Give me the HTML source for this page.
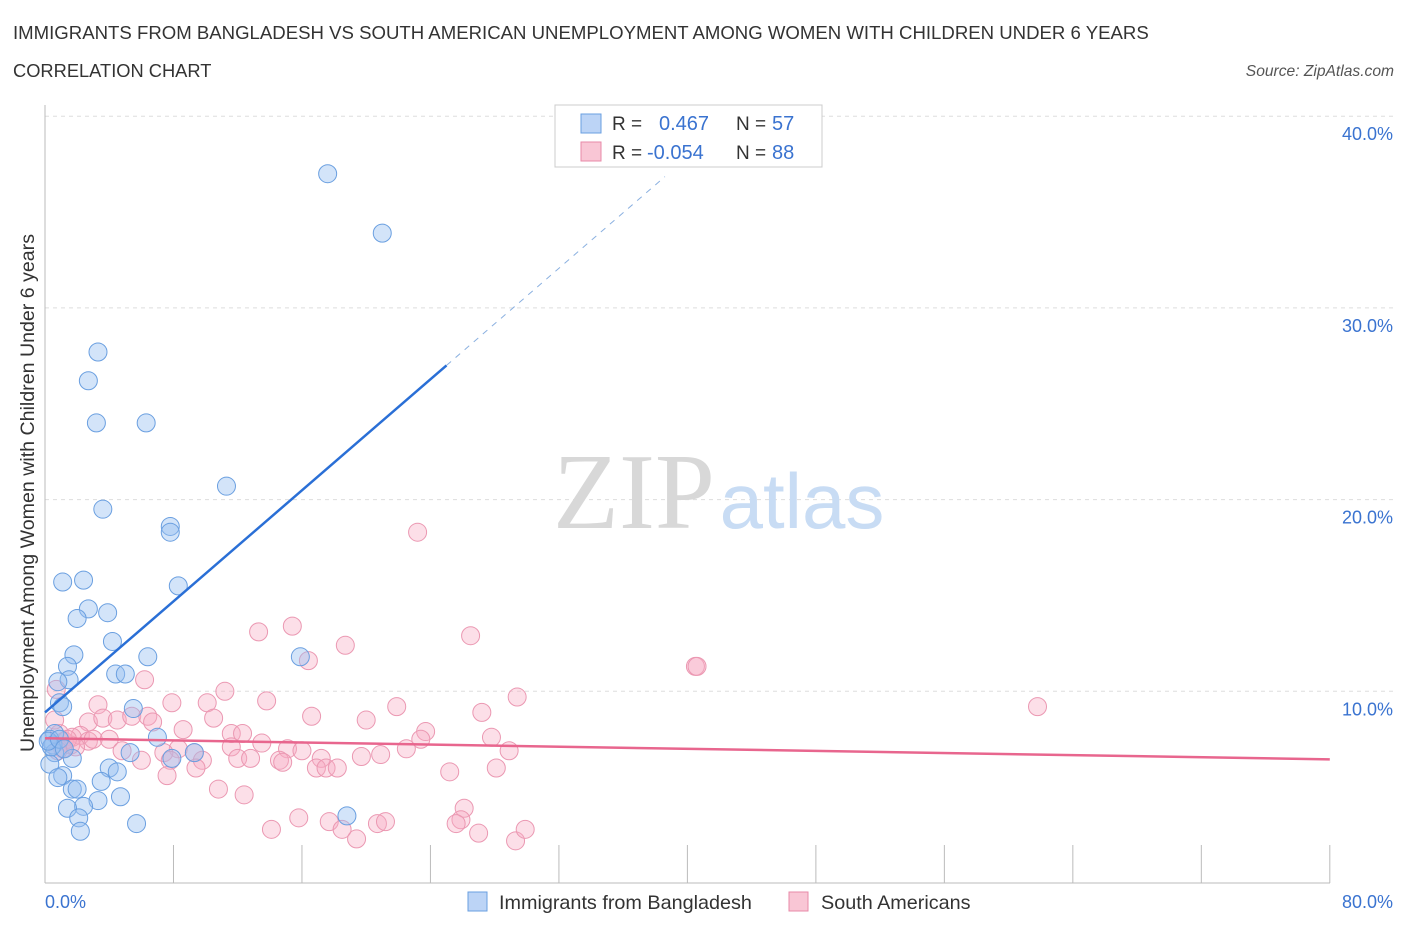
<!DOCTYPE html>
<html><head><meta charset="utf-8"><style>
body{margin:0;background:#fff;font-family:"Liberation Sans",sans-serif;}
svg{display:block}
</style></head><body>
<svg id="c" width="1406" height="930" xmlns="http://www.w3.org/2000/svg">
<text x="13" y="39" font-size="18.6" fill="#333">IMMIGRANTS FROM BANGLADESH VS SOUTH AMERICAN UNEMPLOYMENT AMONG WOMEN WITH CHILDREN UNDER 6 YEARS</text>
<text x="13" y="77" font-size="18.3" fill="#333">CORRELATION CHART</text>
<text x="1394" y="76" font-size="15.6" fill="#555" font-style="italic" text-anchor="end">Source: ZipAtlas.com</text>
<g id="grid"></g>
<text x="634" y="528" font-size="108" fill="#d8d8d8" font-family="Liberation Serif,serif" text-anchor="middle">ZIP</text>
<text x="802" y="528" font-size="78" fill="#c8dcf4" text-anchor="middle">atlas</text>
<g id="pts"></g>
<g id="lines"></g>
<text x="34" y="493" font-size="19.6" fill="#333" text-anchor="middle" transform="rotate(-90 34 493)">Unemployment Among Women with Children Under 6 years</text>
<text x="45" y="908" font-size="18" fill="#3a73d0">0.0%</text>
<text x="1393" y="908" font-size="18" fill="#3a73d0" text-anchor="end">80.0%</text>
<g>
<rect x="555" y="105" width="267" height="62" fill="#fff" stroke="#ccc"/>
<rect x="581" y="114" width="20" height="19" fill="#bcd4f6" stroke="#6a9fe0"/>
<rect x="581" y="142" width="20" height="19" fill="#f9c6d5" stroke="#e88aa8"/>
<text x="612" y="130" font-size="19" fill="#333">R =</text>
<text x="659" y="130" font-size="20" fill="#3a73d0">0.467</text>
<text x="736" y="130" font-size="19" fill="#333">N =</text>
<text x="772" y="130" font-size="20" fill="#3a73d0">57</text>
<text x="612" y="159" font-size="19" fill="#333">R =</text>
<text x="647" y="159" font-size="20" fill="#3a73d0">-0.054</text>
<text x="736" y="159" font-size="19" fill="#333">N =</text>
<text x="772" y="159" font-size="20" fill="#3a73d0">88</text>
</g>
<g>
<rect x="468" y="892" width="19" height="19" fill="#bcd4f6" stroke="#6a9fe0"/>
<text x="499" y="909" font-size="19.8" fill="#333">Immigrants from Bangladesh</text>
<rect x="789" y="892" width="19" height="19" fill="#f9c6d5" stroke="#e88aa8"/>
<text x="821" y="909" font-size="19.8" fill="#333">South Americans</text>
</g>
</svg>
<script>
const blueX=[17.6,21.0,3.3,2.7,3.2,6.3,11.3,3.6,7.8,7.8,1.1,2.4,8.3,2.7,3.9,2.0,4.2,1.8,6.4,1.4,15.9,1.5,4.4,5.0,0.8,0.9,1.1,5.5,7.0,0.6,0.3,0.5,9.3,5.3,1.7,0.6,7.9,0.3,4.0,4.5,3.5,1.1,0.8,1.7,2.0,3.3,2.4,1.4,4.7,18.8,2.1,2.2,5.7,0.4,0.2,0.9,1.2];
const blueY=[37.0,33.9,27.7,26.2,24.0,24.0,20.7,19.5,18.6,18.3,15.7,15.8,15.5,14.3,14.1,13.8,12.6,11.9,11.8,11.3,11.8,10.6,10.9,10.9,10.5,9.4,9.2,9.1,7.6,7.8,7.5,7.2,6.8,6.8,6.5,6.8,6.5,6.2,6.0,5.8,5.3,5.6,5.5,4.9,4.9,4.3,4.0,3.9,4.5,3.5,3.4,2.7,3.1,7.1,7.4,7.5,7.0];
const pinkX=[23.2,26.5,15.4,13.3,18.7,40.5,40.6,61.8,16.4,29.4,11.2,10.1,13.8,7.9,6.2,3.3,0.7,21.9,27.2,16.6,20.0,8.6,10.5,2.7,3.6,4.5,5.4,6.4,6.7,11.6,12.3,23.7,27.8,23.4,2.2,4.0,13.5,11.6,15.1,16.0,22.5,28.9,8.3,4.8,9.3,12.0,12.8,14.6,14.8,17.2,19.7,20.9,6.0,7.4,7.8,9.8,9.4,16.9,17.5,18.2,25.2,28.1,7.6,10.8,12.4,26.1,25.9,25.6,15.8,17.7,18.5,14.1,20.7,21.2,19.4,27.0,29.3,29.9,0.9,1.2,1.6,1.7,1.1,2.7,3.0,0.6,1.4,1.9,0.8];
const pinkY=[18.3,12.9,13.4,13.1,12.4,11.3,11.3,9.2,11.6,9.7,10.0,9.4,9.5,9.4,10.6,9.3,10.1,9.2,8.9,8.7,8.5,8.0,8.6,8.4,8.6,8.5,8.7,8.7,8.4,7.8,7.8,7.9,7.6,7.5,7.7,7.5,7.3,7.1,7.0,6.9,7.0,6.9,7.0,6.9,6.8,6.5,6.5,6.4,6.3,6.5,6.6,6.7,6.4,6.8,6.4,6.4,6.0,6.0,6.0,6.0,5.8,6.0,5.6,4.9,4.6,3.9,3.3,3.1,3.4,3.2,2.8,2.8,3.1,3.2,2.3,2.6,2.2,2.8,7.8,7.4,7.2,7.6,7.0,7.4,7.5,8.5,7.5,7.1,6.9];
const yTicks=[10,20,30,40];
const xTicks=[8,16,24,32,40,48,56,64,72,80];
const blueTrend=[8.9,0.724];
const pinkTrend=[7.55,-0.01375];
const X=v=>45+v*16.06, Y=v=>883-v*19.17;
const NS="http://www.w3.org/2000/svg";
function mk(t,a,p){const e=document.createElementNS(NS,t);for(const k in a)e.setAttribute(k,a[k]);p.appendChild(e);return e;}
const grid=document.getElementById('grid');
yTicks.forEach(t=>{
  const l=mk('line',{x1:45,x2:1393,y1:Y(t),y2:Y(t),stroke:'#ddd','stroke-dasharray':'4 4'},grid);
  
  
  const tx=mk('text',{x:1393,y:Y(t)+24,'font-size':18,fill:'#3a73d0','text-anchor':'end'},grid);
  tx.textContent=t.toFixed(1)+'%';
  
  
});
const ax=mk('line',{x1:45,x2:45,y1:105,y2:883,stroke:'#bbb'},grid);


const bx=mk('line',{x1:45,x2:1330,y1:883,y2:883,stroke:'#bbb'},grid);


xTicks.forEach(t=>{
  const l=mk('line',{x1:X(t),x2:X(t),y1:845,y2:883,stroke:'#bbb'},grid);
  
  
});
const pts=document.getElementById('pts');
pinkX.forEach((v,i)=>{
  const c=mk('circle',{cx:X(v),cy:Y(pinkY[i]),r:9,fill:'rgba(247,170,195,0.38)',stroke:'#eb98b2','stroke-width':1},pts);
  
  
});
blueX.forEach((v,i)=>{
  const c=mk('circle',{cx:X(v),cy:Y(blueY[i]),r:9,fill:'rgba(150,190,240,0.42)',stroke:'#6a9fe0','stroke-width':1},pts);
  
  
});
const lines=document.getElementById('lines');
const bt=x=>blueTrend[0]+blueTrend[1]*x;
const b1=mk('line',{x1:X(0),y1:Y(bt(0)),x2:X(25),y2:Y(bt(25)),stroke:'#2a6fd6','stroke-width':2.5},lines);


const b2=mk('line',{x1:X(25),y1:Y(bt(25)),x2:X(38.6),y2:Y(bt(38.6)),stroke:'#8ab0e0','stroke-width':1,'stroke-dasharray':'6 6'},lines);


const pt=x=>pinkTrend[0]+pinkTrend[1]*x;
const p1=mk('line',{x1:X(0),y1:Y(pt(0)),x2:X(80),y2:Y(pt(80)),stroke:'#e8668e','stroke-width':2.5},lines);


</script>
</body></html>
